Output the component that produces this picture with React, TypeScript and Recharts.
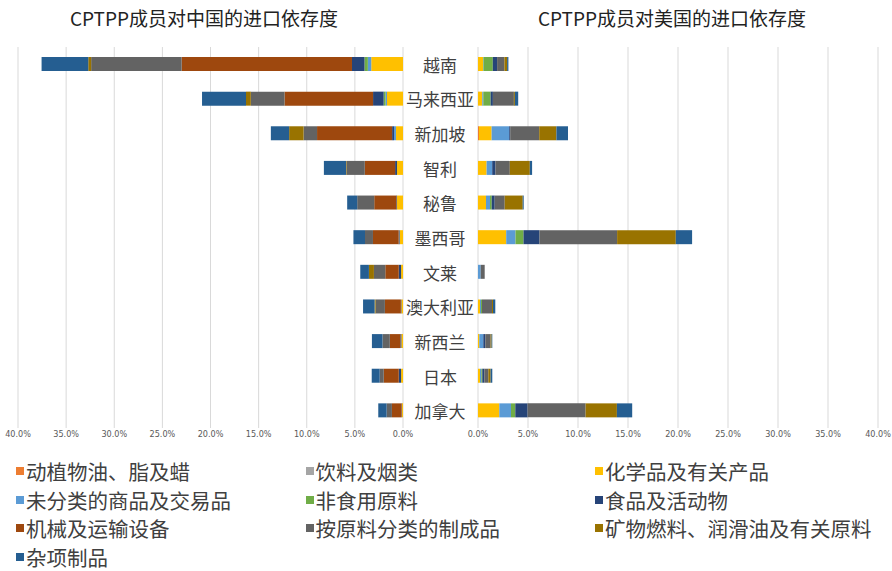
import React from "react";
import { BarChart, Bar, XAxis, YAxis, CartesianGrid } from "recharts";

const categories = ["越南", "马来西亚", "新加坡", "智利", "秘鲁", "墨西哥", "文莱", "澳大利亚", "新西兰", "日本", "加拿大"];
const ticks = [0, 5, 10, 15, 20, 25, 30, 35, 40];

const seriesNames = [
  "动植物油、脂及蜡",
  "饮料及烟类",
  "化学品及有关产品",
  "未分类的商品及交易品",
  "非食用原料",
  "食品及活动物",
  "机械及运输设备",
  "按原料分类的制成品",
  "矿物燃料、润滑油及有关原料",
  "杂项制品",
];
const seriesColors = ["#ED7D31", "#A5A5A5", "#FFC000", "#5B9BD5", "#70AD47", "#264478", "#9E480E", "#636363", "#997300", "#255E91"];

// dependency on China (%)
const cnOil = [0, 0, 0, 0, 0, 0, 0, 0, 0, 0, 0];
const cnBev = [0, 0, 0, 0, 0, 0, 0, 0, 0, 0, 0];
const cnChem = [3.3, 1.66, 0.73, 0.62, 0.62, 0.35, 0.2, 0.17, 0.17, 0.2, 0.1];
const cnUncl = [0.35, 0.15, 0.2, 0, 0, 0, 0, 0, 0, 0, 0];
const cnCrude = [0.35, 0.2, 0, 0, 0, 0, 0, 0, 0, 0, 0];
const cnFood = [1.3, 1.1, 0.2, 0.2, 0.07, 0.1, 0.24, 0.05, 0.1, 0.24, 0.05];
const cnMach = [17.7, 9.2, 7.8, 3.15, 2.3, 2.67, 1.4, 1.66, 1.1, 1.56, 1.0];
const cnManu = [9.4, 3.5, 1.4, 1.9, 1.77, 0.83, 1.18, 0.97, 0.76, 0.42, 0.55];
const cnFuel = [0.3, 0.5, 1.5, 0.05, 0, 0, 0.52, 0.1, 0, 0, 0];
const cnMisc = [4.85, 4.57, 1.9, 2.3, 1.04, 1.2, 0.9, 1.2, 1.1, 0.83, 0.87];

// dependency on USA (%)
const usOil = [0, 0, 0.1, 0, 0, 0, 0, 0, 0, 0, 0];
const usBev = [0, 0, 0, 0, 0, 0, 0, 0, 0, 0, 0];
const usChem = [0.5, 0.43, 1.26, 0.86, 0.8, 2.82, 0, 0.2, 0.13, 0.2, 2.13];
const usUncl = [0.05, 0.1, 1.76, 0.56, 0.4, 0.93, 0.27, 0.1, 0.4, 0.13, 1.17];
const usCrude = [0.93, 0.73, 0, 0, 0.17, 0.8, 0, 0.1, 0, 0.1, 0.43];
const usFood = [0.43, 0.23, 0.1, 0.33, 0.3, 1.6, 0, 0, 0.2, 0.2, 1.23];
const usMach = [0, 0, 0, 0, 0, 0, 0, 0, 0, 0, 0];
const usManu = [0.73, 2.1, 2.9, 1.43, 1.0, 7.76, 0.4, 1.0, 0.53, 0.4, 5.8];
const usFuel = [0.27, 0.1, 1.72, 2.0, 1.8, 5.87, 0, 0.1, 0.1, 0.23, 3.13];
const usMisc = [0.13, 0.33, 1.16, 0.23, 0.1, 1.63, 0, 0.23, 0.07, 0.17, 1.53];

const cnSeries = [cnOil, cnBev, cnChem, cnUncl, cnCrude, cnFood, cnMach, cnManu, cnFuel, cnMisc];
const usSeries = [usOil, usBev, usChem, usUncl, usCrude, usFood, usMach, usManu, usFuel, usMisc];

const build = (series: number[][]) =>
  categories.map((c, i) => {
    const row: Record<string, any> = { name: c };
    series.forEach((s, k) => (row["s" + k] = s[i]));
    return row;
  });

const cnData = build(cnSeries);
const usData = build(usSeries);

const tickFont = { fontSize: 9, fill: "#595959", fontFamily: "'Liberation Sans Narrow', 'DejaVu Sans Condensed', sans-serif" };
const cjk = "'Noto Sans CJK SC', sans-serif";

const CatTick = (props: any) => (
  <text x={props.x + 37} y={props.y} textAnchor="middle" dominantBaseline="central" fontSize={17} fill="#404040" fontFamily={cjk}>
    {props.payload.value}
  </text>
);

const fmt = (v: number) => v.toFixed(1) + "%";

const bars = () =>
  seriesNames.map((n, k) => (
    <Bar key={n} dataKey={"s" + k} name={n} stackId="a" fill={seriesColors[k]} barSize={14} isAnimationActive={false} />
  ));

export default function App() {
  return (
    <div style={{ position: "absolute", left: 0, top: 0, width: 892, height: 571, background: "#fff", fontFamily: cjk, overflow: "hidden" }}>
      <div style={{ position: "absolute", left: 0, width: 408, top: 4, textAlign: "center", fontSize: 19, color: "#222" }}>
        CPTPP成员对中国的进口依存度
      </div>
      <div style={{ position: "absolute", left: 472, width: 400, top: 4, textAlign: "center", fontSize: 19, color: "#222" }}>
        CPTPP成员对美国的进口依存度
      </div>
      <div style={{ position: "absolute", left: 0, top: 0 }}>
        <BarChart width={478} height={460} data={cnData} layout="vertical" margin={{ top: 47, right: 0, left: 18, bottom: 12 }}>
          <CartesianGrid horizontal={false} stroke="#D9D9D9" />
          <XAxis type="number" domain={[0, 40]} ticks={ticks} reversed tickFormatter={fmt} axisLine={false} tickLine={false} tick={tickFont} height={20} tickSize={3} tickMargin={0} interval={0} />
          <YAxis type="category" dataKey="name" orientation="right" width={75} axisLine={false} tickLine={false} tickSize={0} tickMargin={0} tick={<CatTick />} interval={0} />
          {bars()}
        </BarChart>
      </div>
      <div style={{ position: "absolute", left: 430, top: 0 }}>
        <BarChart width={462} height={460} data={usData} layout="vertical" margin={{ top: 47, right: 14, left: 48, bottom: 12 }}>
          <CartesianGrid horizontal={false} stroke="#D9D9D9" />
          <XAxis type="number" domain={[0, 40]} ticks={ticks} tickFormatter={fmt} axisLine={false} tickLine={false} tick={tickFont} height={20} tickSize={3} tickMargin={0} interval={0} />
          <YAxis type="category" dataKey="name" hide />
          {bars()}
        </BarChart>
      </div>
      <div style={{ position: "absolute", left: 16, top: 461, width: 876 }}>
        {seriesNames.map((n, k) => (
          <div
            key={n}
            style={{
              position: "absolute",
              left: (k % 3) * 289.5,
              top: Math.floor(k / 3) * 28.7,
              display: "flex",
              alignItems: "center",
              fontSize: 20.5,
              lineHeight: "20px",
              color: "#404040",
              whiteSpace: "nowrap",
              height: 20,
            }}
          >
            <span style={{ display: "inline-block", width: 8, height: 8, background: seriesColors[k], marginRight: 2 }} />
            {n}
          </div>
        ))}
      </div>
    </div>
  );
}
